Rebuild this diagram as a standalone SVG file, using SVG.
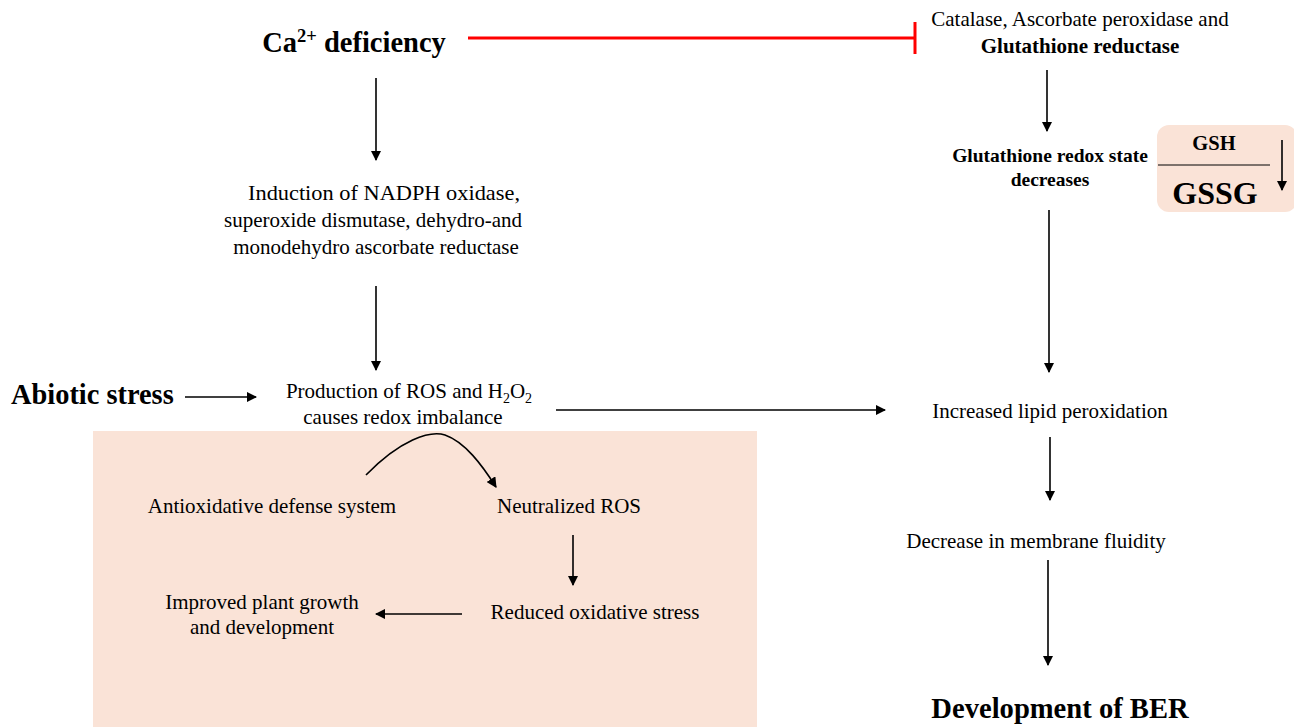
<svg xmlns="http://www.w3.org/2000/svg" width="1294" height="727" viewBox="0 0 1294 727">
  <style>
    text { font-family: "Liberation Serif", "Times New Roman", serif; fill: #000; }
    .t { font-size: 21px; }
    .c { text-anchor: middle; }
    .b { font-weight: bold; }
    .conn { stroke: #000; stroke-width: 1.6; fill: none; }
  </style>
  <defs>
    <marker id="ah" viewBox="0 0 10 10" refX="9" refY="5" markerWidth="6.5" markerHeight="6.5" markerUnits="strokeWidth" orient="auto">
      <path d="M0,0 L10,5 L0,10 Z" fill="#000"/>
    </marker>
  </defs>

  <!-- shaded panel behind the defense loop -->
  <rect id="panel" x="93" y="431" width="664" height="296" fill="#FAE3D7"/>

  <g id="connectors">
    <!-- inhibition -->
    <line x1="468" y1="38" x2="915" y2="38" stroke="#FF0000" stroke-width="3"/>
    <line x1="915" y1="22" x2="915" y2="54" stroke="#FF0000" stroke-width="3"/>
    <line class="conn" x1="376" y1="78" x2="376" y2="160" marker-end="url(#ah)"/>
    <line class="conn" x1="376" y1="286" x2="376" y2="370" marker-end="url(#ah)"/>
    <line class="conn" x1="185" y1="397" x2="256" y2="397" marker-end="url(#ah)"/>
    <line class="conn" x1="556" y1="410" x2="885" y2="410" marker-end="url(#ah)"/>
    <line class="conn" x1="1047" y1="70" x2="1047" y2="131" marker-end="url(#ah)"/>
    <line class="conn" x1="1049" y1="210" x2="1049" y2="372" marker-end="url(#ah)"/>
    <line class="conn" x1="1050" y1="437" x2="1050" y2="500" marker-end="url(#ah)"/>
    <line class="conn" x1="1048" y1="560" x2="1048" y2="665" marker-end="url(#ah)"/>
    <path class="conn" d="M366,475 C400,440 430,430 445,435 C465,442 482,465 496,487" marker-end="url(#ah)"/>
    <line class="conn" x1="573" y1="535" x2="573" y2="585" marker-end="url(#ah)"/>
    <line class="conn" x1="462" y1="614" x2="376" y2="614" marker-end="url(#ah)"/>
  </g>

  <g id="ca-deficiency">
    <text x="354" y="52" class="c b" font-size="28.5">Ca<tspan font-size="18.5" dy="-10">2+</tspan><tspan dy="10"> deficiency</tspan></text>
  </g>

  <g id="enzymes">
    <text x="1080" y="26" class="t c">Catalase, Ascorbate peroxidase and</text>
    <text x="1080" y="53" class="t c b">Glutathione reductase</text>
  </g>

  <g id="redox-state">
    <text x="1050" y="162" class="c b" font-size="19.5">Glutathione redox state</text>
    <text x="1050" y="186" class="c b" font-size="19.5">decreases</text>
  </g>

  <g id="gsh-ratio">
    <rect x="1157" y="125" width="140" height="87" rx="12" fill="#FAE3D7"/>
    <text x="1214" y="150" class="c b" font-size="20.5">GSH</text>
    <line x1="1158" y1="165" x2="1270" y2="165" stroke="#000" stroke-width="1"/>
    <text x="1215" y="204" class="c b" font-size="32">GSSG</text>
    <line class="conn" x1="1282" y1="140" x2="1282" y2="190" marker-end="url(#ah)"/>
  </g>

  <g id="induction">
    <text x="384" y="200" class="t c" textLength="272" lengthAdjust="spacingAndGlyphs">Induction of NADPH oxidase,</text>
    <text x="373" y="227" class="t c">superoxide dismutase, dehydro-and</text>
    <text x="376" y="254" class="t c">monodehydro ascorbate reductase</text>
  </g>

  <g id="abiotic-stress">
    <text x="11" y="404" class="b" font-size="28.4">Abiotic stress</text>
  </g>

  <g id="ros-production">
    <text x="409" y="398" class="t c">Production of ROS and H<tspan font-size="14" dy="5">2</tspan><tspan dy="-5">O</tspan><tspan font-size="14" dy="5">2</tspan></text>
    <text x="403" y="424" class="t c">causes redox imbalance</text>
  </g>

  <g id="lipid-peroxidation">
    <text x="1050" y="418" class="t c">Increased lipid peroxidation</text>
  </g>

  <g id="membrane-fluidity">
    <text x="1036" y="548" class="t c">Decrease in membrane fluidity</text>
  </g>

  <g id="ber">
    <text x="1060" y="718" class="c b" font-size="28.6">Development of BER</text>
  </g>

  <g id="antioxidative">
    <text x="272" y="513" class="t c">Antioxidative defense system</text>
  </g>

  <g id="neutralized">
    <text x="569" y="513" class="t c">Neutralized ROS</text>
  </g>

  <g id="reduced-stress">
    <text x="595" y="619" class="t c">Reduced oxidative stress</text>
  </g>

  <g id="improved-growth">
    <text x="262" y="609" class="t c">Improved plant growth</text>
    <text x="262" y="634" class="t c">and development</text>
  </g>
</svg>
